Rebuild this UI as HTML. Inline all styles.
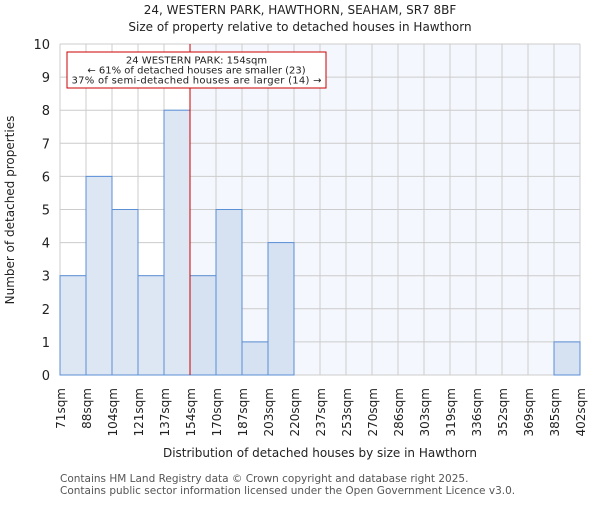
<!DOCTYPE html>
<html><head><meta charset="utf-8"><style>
body{margin:0;background:#fff;}
text{font-family:"DejaVu Sans","Liberation Sans",sans-serif;fill:#222;}
</style></head><body>
<svg id="chart" width="600" height="500">
<text x="300" y="14" text-anchor="middle" font-size="12">24, WESTERN PARK, HAWTHORN, SEAHAM, SR7 8BF</text>
<text x="300" y="31" text-anchor="middle" font-size="12">Size of property relative to detached houses in Hawthorn</text>
<g id="plot"></g>
<text transform="translate(14,210) rotate(-90)" text-anchor="middle" font-size="12">Number of detached properties</text>
<text x="320" y="457" text-anchor="middle" font-size="12">Distribution of detached houses by size in Hawthorn</text>
<text x="60" y="482" font-size="10.5" style="fill:#555">Contains HM Land Registry data © Crown copyright and database right 2025.</text>
<text x="60" y="494" font-size="10.5" style="fill:#555">Contains public sector information licensed under the Open Government Licence v3.0.</text>
</svg>
<script>
const binLabels=["71sqm","88sqm","104sqm","121sqm","137sqm","154sqm","170sqm","187sqm","203sqm","220sqm","237sqm","253sqm","270sqm","286sqm","303sqm","319sqm","336sqm","352sqm","369sqm","385sqm","402sqm"];
const counts=[3,6,5,3,8,3,5,1,4,0,0,0,0,0,0,0,0,0,0,1];
const yTicks=[0,1,2,3,4,5,6,7,8,9,10];
const markerValue=154;
const annotationLines=["24 WESTERN PARK: 154sqm","← 61% of detached houses are smaller (23)","37% of semi-detached houses are larger (14) →"];
const X0=60,X1=580,Y0=375,Y1=44,NS="http://www.w3.org/2000/svg";
const xs=i=>X0+i*(X1-X0)/counts.length;
const ys=v=>Y0-v*(Y0-Y1)/10;
const binNums=binLabels.map(s=>parseFloat(s));
function xv(v){for(let i=0;i<binNums.length-1;i++){if(v>=binNums[i]&&v<=binNums[i+1])return xs(i)+(v-binNums[i])/(binNums[i+1]-binNums[i])*(xs(i+1)-xs(i));}return X1;}
const g=document.getElementById('plot');
function mk(t,a){const e=document.createElementNS(NS,t);for(const k in a)e.setAttribute(k,a[k]);g.appendChild(e);return e;}
const mx=xv(markerValue);
let e=mk('rect',{x:mx,y:Y1,width:X1-mx,height:Y0-Y1,fill:'#f4f7fd'});


for(let i=0;i<binLabels.length;i++){const l=mk('line',{x1:xs(i),x2:xs(i),y1:Y1,y2:Y0,stroke:'#cccccc'});

}
yTicks.forEach(t=>{const l=mk('line',{x1:X0,x2:X1,y1:ys(t),y2:ys(t),stroke:'#cccccc'});


const tx=mk('text',{x:X0-10,y:ys(t)+5,'text-anchor':'end','font-size':13});tx.textContent=t;

});
counts.forEach((c,i)=>{if(c<=0)return;const r=mk('rect',{x:xs(i),y:ys(c),width:xs(i+1)-xs(i),height:ys(0)-ys(c),fill:xs(i)>=mx?'#d6e1f2':'#dde6f3',stroke:'#5b8fd6','stroke-width':1});

});
binLabels.forEach((s,i)=>{const tx=mk('text',{transform:`translate(${xs(i)+5},388) rotate(-90)`,'text-anchor':'end','font-size':12});tx.textContent=s;

});
e=mk('line',{x1:mx,x2:mx,y1:Y1,y2:Y0,stroke:'#cc0000','stroke-width':1});


e=mk('rect',{x:67,y:52,width:259,height:36,fill:'#fff',stroke:'#cc0000'});


annotationLines.forEach((s,i)=>{const tx=mk('text',{x:196.5,y:63.5+i*10,'text-anchor':'middle','font-size':10,textLength:i==2?250:null});tx.textContent=s;
if(i!=2)tx.removeAttribute('textLength');

});
</script>
</body></html>
